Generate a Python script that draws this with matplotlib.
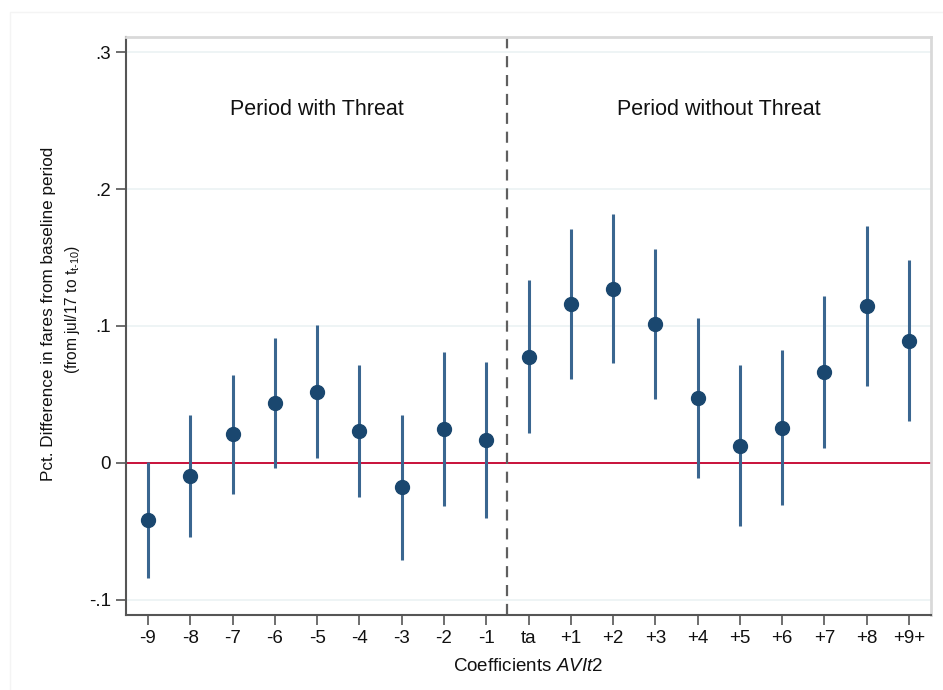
import matplotlib.pyplot as plt
from matplotlib.patches import Rectangle

plt.rcParams['font.family'] = ['Liberation Sans', 'DejaVu Sans']
plt.rcParams['mathtext.fontset'] = 'custom'
plt.rcParams['mathtext.rm'] = 'Liberation Sans'
plt.rcParams['mathtext.it'] = 'Liberation Sans:italic'

# event-time coefficients with 95% confidence bounds
etiquetas = ['-9', '-8', '-7', '-6', '-5', '-4', '-3', '-2', '-1', 'ta',
             '+1', '+2', '+3', '+4', '+5', '+6', '+7', '+8', '+9+']
coef = [-0.0416, -0.0095, 0.021, 0.0436, 0.052, 0.0236, -0.0178, 0.0248, 0.0168, 0.0776,
        0.116, 0.127, 0.1015, 0.0474, 0.0127, 0.0258, 0.0662, 0.1146, 0.0893]
ci_sup = [0.001, 0.035, 0.064, 0.091, 0.101, 0.0715, 0.035, 0.081, 0.0737, 0.1336,
          0.171, 0.1815, 0.156, 0.106, 0.0715, 0.0825, 0.122, 0.1732, 0.148]
ci_inf = [-0.084, -0.054, -0.023, -0.004, 0.0034, -0.0246, -0.0708, -0.0314, -0.0404, 0.0217,
          0.061, 0.0728, 0.0465, -0.0107, -0.0457, -0.0307, 0.0107, 0.0562, 0.0307]
yticks = [-0.1, 0, 0.1, 0.2, 0.3]
ytick_labels = ['-.1', '0', '.1', '.2', '.3']

fig = plt.figure(figsize=(9.43, 6.9), dpi=100)
fig.patches.append(Rectangle((0.011, -0.01), 1.0, 0.993, transform=fig.transFigure,
                             fill=False, edgecolor='#f4f4f4', linewidth=1))
ax = fig.add_axes([0.1336, 0.1087, 0.8537, 0.8377])

x = list(range(1, len(etiquetas) + 1))

# grid lines
for yv in [-0.1, 0.1, 0.2, 0.3]:
    ax.axhline(yv, color='#eef4f5', linewidth=1.4, zorder=0)

ax.axhline(0, color='#c8103a', linewidth=1.4, zorder=1)
ax.axvline(9.5, color='#5f5f5f', linewidth=1.6, linestyle=(0, (5, 3.5)), zorder=1)

ax.vlines(x, ci_inf, ci_sup, color='#3a6690', linewidth=2.2, zorder=2)
ax.plot(x, coef, 'o', color='#1a476f', markersize=10, zorder=3)

ax.set_xlim(0.48, 19.52)
ax.set_ylim(-0.111, 0.311)
ax.set_xticks(x)
ax.set_xticklabels(etiquetas, fontsize=13.5, color='#111111')
ax.set_yticks(yticks)
ax.set_yticklabels(ytick_labels, fontsize=13.5, color='#111111')
ax.tick_params(axis='both', length=7, width=1.2, color='#555555', pad=4)

for lado in ['top', 'right']:
    ax.spines[lado].set_color('#d9d9d9')
    ax.spines[lado].set_linewidth(2)
for lado in ['left', 'bottom']:
    ax.spines[lado].set_color('#555555')
    ax.spines[lado].set_linewidth(1.5)

ax.text(5, 0.258, 'Period with Threat', ha='center', va='center', fontsize=15.5, color='#111111')
ax.text(14.5, 0.258, 'Period without Threat', ha='center', va='center', fontsize=15.5, color='#111111')

ax.set_xlabel('Coefficients $\\it{AVIt2}$', fontsize=13.5, color='#111111', labelpad=8)

fig.text(0.051, 1 - 314 / 690, 'Pct. Difference in fares from baseline period',
         rotation=90, ha='center', va='center', fontsize=12.3, color='#111111')
fig.text(0.077, 1 - 310 / 690, '(from jul/17 to t$_{\\mathregular{t\u201010}}$)',
         rotation=90, ha='center', va='center', fontsize=11.2, color='#111111')

fig.savefig('out.png', dpi=100, facecolor='white')
